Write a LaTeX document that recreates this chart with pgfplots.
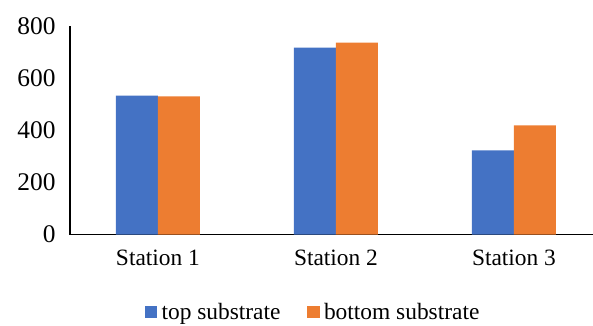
\documentclass[border=0pt]{standalone}
\usepackage{fontspec}
\setmainfont{Liberation Serif}
\usepackage{pgfplots}
\pgfplotsset{compat=1.18}
\definecolor{cblue}{HTML}{4472C4}
\definecolor{corange}{HTML}{ED7D31}
\begin{document}
\begin{tikzpicture}[x=1bp,y=1bp]
\begin{axis}[
  at={(0,0)}, anchor=south west,
  scale only axis, width=523bp, height=208.5bp,
  ybar=0pt, bar width=42bp,
  xmin=-0.494, xmax=2.444, ymin=0, ymax=800,
  xtick={0,1,2}, xticklabels={Station 1,Station 2,Station 3},
  ytick={0,200,400,600,800},
  axis x line*=bottom, axis y line*=left,
  axis line style={black, line width=1.2bp},
  major tick length=0pt,
  tick style={draw=none},
  font=\fontsize{23.5}{28}\selectfont,
  /pgf/number format/assume math mode=true,
  yticklabel style={xshift=-11bp, font=\fontsize{25.5}{30}\selectfont},
  xticklabel style={yshift=-12bp},
  legend columns=2,
  legend style={draw=none, fill=none, at={(0.467,-0.372)}, anchor=center,
    nodes={inner ysep=1bp, inner xsep=4.5bp},
    /tikz/every even column/.append style={column sep=22bp}},
  legend image code/.code={\fill[#1] (0bp,-6bp) rectangle (12.5bp,6bp);},
]
\addplot[fill=cblue, draw=none] coordinates {(0,533) (1,717) (2,323)};
\addplot[fill=corange, draw=none] coordinates {(0,530) (1,736) (2,419)};
\legend{top substrate, bottom substrate}
\end{axis}
\pgfresetboundingbox
\path (-70,-90.5) rectangle (523,234.5);
\end{tikzpicture}
\end{document}
